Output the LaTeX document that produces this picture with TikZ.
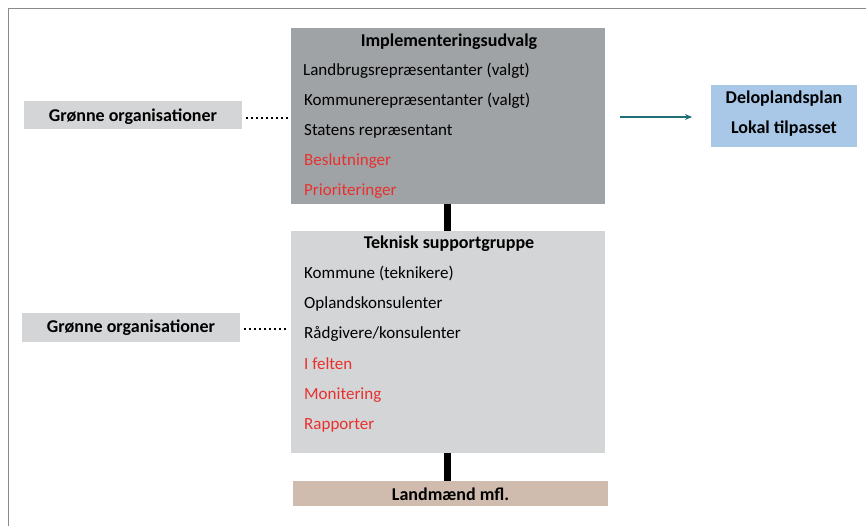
\documentclass[tikz,border=0pt]{standalone}
\usepackage{fontspec}
\setmainfont{Carlito}
\usetikzlibrary{arrows.meta}
\definecolor{darkbox}{HTML}{A0A3A6}
\definecolor{lightbox}{HTML}{D4D5D7}
\definecolor{tanbox}{HTML}{D0BCAE}
\definecolor{bluebox}{HTML}{A9C8E8}
\definecolor{greenorg}{HTML}{D4D5D7}
\definecolor{tealarrow}{HTML}{1F6F77}
\definecolor{redtext}{HTML}{E8302E}
\definecolor{framegray}{HTML}{8A8A8A}
\tikzset{
  boxbase/.style={rectangle, inner sep=0pt, outer sep=0pt, draw=none},
  item/.style={anchor=base west, inner sep=0pt, font=\fontsize{17}{20}\selectfont},
  reditem/.style={item, text=redtext},
  heading/.style={anchor=base, inner sep=0pt, font=\fontsize{18}{21}\selectfont\bfseries},
  stem/.style={line width=7pt, black},
  dotline/.style={line width=2pt, dash pattern=on 2pt off 3pt, black},
}
\begin{document}
\begin{tikzpicture}[x=1pt,y=-1pt]
\useasboundingbox (0,0) rectangle (866,526);
\fill[white] (0,0) rectangle (866,526);
% frame
\draw[framegray, line width=1.5pt] (8.5,526) -- (8.5,8.5) -- (866,8.5);

% main boxes
\node[boxbase, fill=darkbox, minimum width=314pt, minimum height=176pt] (impl) at (448,116) {};
\node[boxbase, fill=lightbox, minimum width=314pt, minimum height=222pt] (tek) at (448,342) {};
\node[boxbase, fill=tanbox, minimum width=315pt, minimum height=25pt] (land) at (450.5,493.5) {};
\node[heading] (landtxt) at (450.5,500) {Landmænd mfl.};

% stems
\draw[stem] (impl.south -| 447.5,0) -- (tek.north -| 447.5,0);
\draw[stem] (tek.south -| 447.5,0) -- (land.north -| 447.5,0);

% implementeringsudvalg contents
\node[heading] (impltitle) at (449,47) {Implementeringsudvalg};
\node[item] (i1) at (303,76) {Landbrugsrepræsentanter (valgt)};
\node[item] (i2) at (304,106) {Kommunerepræsentanter (valgt)};
\node[item] (i3) at (304,136) {Statens repræsentant};
\node[reditem] (i4) at (304,166) {Beslutninger};
\node[reditem] (i5) at (304,196) {Prioriteringer};

% teknisk supportgruppe contents
\node[heading] (tektitle) at (449,249) {Teknisk supportgruppe};
\node[item] (t1) at (304,278) {Kommune (teknikere)};
\node[item] (t2) at (304,308) {Oplandskonsulenter};
\node[item] (t3) at (304,338) {Rådgivere/konsulenter};
\node[reditem] (t4) at (304,369) {I felten};
\node[reditem] (t5) at (304,399) {Monitering};
\node[reditem] (t6) at (304,429) {Rapporter};

% green organisations
\node[boxbase, fill=greenorg, minimum width=218pt, minimum height=28pt] (g1) at (133,115.5) {};
\node[heading] (g1txt) at (133,121.5) {Grønne organisationer};
\node[boxbase, fill=greenorg, minimum width=218pt, minimum height=29pt] (g2) at (131,327.5) {};
\node[heading] (g2txt) at (131,332.5) {Grønne organisationer};
\coordinate (d1) at (289,118.5);
\coordinate (d2) at (288,328.5);
\draw[dotline] ([xshift=4pt]g1.east |- d1) -- (d1);
\draw[dotline] ([xshift=4pt]g2.east |- d2) -- (d2);

% blue box and arrow
\node[boxbase, fill=bluebox, minimum width=146pt, minimum height=62pt] (plan) at (784,116) {};
\node[heading] (p1) at (784,104) {Deloplandsplan};
\node[heading] (p2) at (784,134) {Lokal tilpasset};
\coordinate (a1) at (620,117);
\draw[tealarrow, line width=1.5pt, -{Stealth[length=7pt,width=6pt]}] (a1) -- ([xshift=-19pt]plan.west |- a1);
\end{tikzpicture}
\end{document}
